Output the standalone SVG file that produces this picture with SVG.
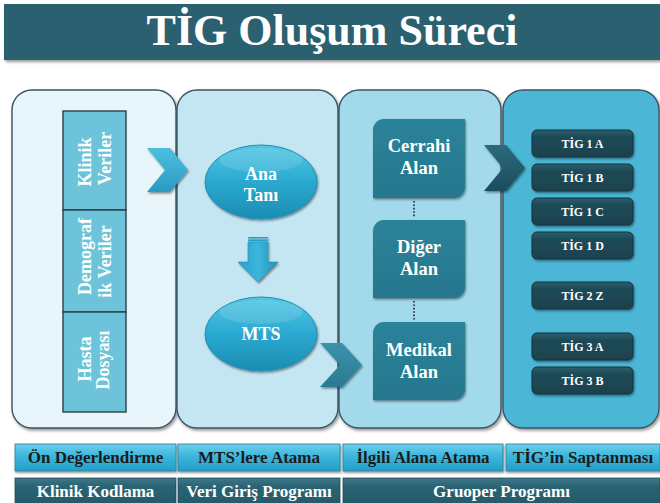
<svg xmlns="http://www.w3.org/2000/svg" width="660" height="503" viewBox="0 0 660 503" font-family="Liberation Serif, DejaVu Serif, serif" font-weight="bold">
  <defs>
    <style>
      .w{fill:#ffffff}
      .panel{stroke:#3b5563;stroke-width:1.4}
      .src{fill:#6cc3da;stroke:#2f3f46;stroke-width:1.4}
      .area{fill:url(#areaGrad)}
      .tig{fill:url(#tigGrad);stroke:#15343e;stroke-width:1}
      .step{fill:url(#stepGrad);stroke:#2b7f9c;stroke-width:0.8}
      .tool{fill:url(#toolGrad);stroke:#1e4c58;stroke-width:0.8}
      .dots{stroke:#1f2a2e;stroke-width:1.6;stroke-dasharray:1.6 1.8;fill:none}
    </style>
    <filter id="sh" x="-10%" y="-10%" width="130%" height="130%">
      <feDropShadow dx="1.5" dy="2" stdDeviation="1.5" flood-color="#000" flood-opacity="0.4"/>
    </filter>
    <filter id="shs" x="-20%" y="-20%" width="150%" height="160%">
      <feDropShadow dx="1" dy="1.5" stdDeviation="1" flood-color="#000" flood-opacity="0.45"/>
    </filter>
    <linearGradient id="ellGrad" x1="0" y1="0" x2="0" y2="1">
      <stop offset="0" stop-color="#52c6e4"/>
      <stop offset="0.5" stop-color="#2aa9d0"/>
      <stop offset="1" stop-color="#1c8cb1"/>
    </linearGradient>
    <linearGradient id="arrowGrad" x1="0" y1="0" x2="1" y2="0">
      <stop offset="0" stop-color="#2a9fc6"/>
      <stop offset="0.5" stop-color="#3cb6dc"/>
      <stop offset="1" stop-color="#2393ba"/>
    </linearGradient>
    <linearGradient id="chev1" x1="0" y1="0" x2="0" y2="1">
      <stop offset="0" stop-color="#4cc0e0"/>
      <stop offset="1" stop-color="#2b9ac0"/>
    </linearGradient>
    <linearGradient id="chev2" x1="0" y1="0" x2="0" y2="1">
      <stop offset="0" stop-color="#3a93ab"/>
      <stop offset="1" stop-color="#2a7a91"/>
    </linearGradient>
    <linearGradient id="chev3" x1="0" y1="0" x2="0" y2="1">
      <stop offset="0" stop-color="#2b6a7c"/>
      <stop offset="1" stop-color="#1c4d5c"/>
    </linearGradient>
    <linearGradient id="areaGrad" x1="0" y1="0" x2="0" y2="1">
      <stop offset="0" stop-color="#2c8399"/>
      <stop offset="1" stop-color="#25778d"/>
    </linearGradient>
    <linearGradient id="tigGrad" x1="0" y1="0" x2="0" y2="1">
      <stop offset="0" stop-color="#2c5f6d"/>
      <stop offset="0.25" stop-color="#1f4a57"/>
      <stop offset="1" stop-color="#1a424e"/>
    </linearGradient>
    <linearGradient id="stepGrad" x1="0" y1="0" x2="0" y2="1">
      <stop offset="0" stop-color="#6dd0ec"/>
      <stop offset="0.45" stop-color="#3cb6dc"/>
      <stop offset="1" stop-color="#249ec8"/>
    </linearGradient>
    <linearGradient id="toolGrad" x1="0" y1="0" x2="0" y2="1">
      <stop offset="0" stop-color="#3f7888"/>
      <stop offset="0.3" stop-color="#2a6373"/>
      <stop offset="1" stop-color="#245a69"/>
    </linearGradient>
  </defs>

  <!-- title bar -->
  <g id="title">
    <rect x="4" y="4" width="656" height="56" fill="#29606f" filter="url(#sh)"/>
    <text class="w" x="332" y="45" font-size="44" text-anchor="middle">TİG Oluşum Süreci</text>
  </g>

  <!-- stage panels -->
  <g id="panels">
    <rect id="panel-on" class="panel" x="12" y="90" width="164" height="338" rx="20" fill="#e8f5fa" filter="url(#sh)"/>
    <rect id="panel-mts" class="panel" x="177" y="90" width="161" height="338" rx="20" fill="#c4e6f2" filter="url(#sh)"/>
    <rect id="panel-alan" class="panel" x="339" y="90" width="162" height="338" rx="20" fill="#a2d9eb" filter="url(#sh)"/>
    <rect id="panel-tig" class="panel" x="503" y="90" width="156" height="338" rx="20" fill="#4cb6d6" filter="url(#sh)"/>
  </g>

  <!-- source records (vertical text) -->
  <g id="klinik-veriler">
    <rect class="src" x="63" y="111" width="63" height="99"/>
    <text class="w" font-size="18" text-anchor="middle" transform="translate(91,162) rotate(-90)">Klinik</text>
    <text class="w" font-size="18" text-anchor="middle" transform="translate(111,158.5) rotate(-90)">Veriler</text>
  </g>
  <g id="demografik-veriler">
    <rect class="src" x="63" y="210" width="63" height="102"/>
    <text class="w" font-size="18" text-anchor="middle" transform="translate(91,256.5) rotate(-90)">Demograf</text>
    <text class="w" font-size="18" text-anchor="middle" transform="translate(111,261.5) rotate(-90)">ik Veriler</text>
  </g>
  <g id="hasta-dosyasi">
    <rect class="src" x="63" y="312" width="63" height="100"/>
    <text class="w" font-size="18" text-anchor="middle" transform="translate(91,359) rotate(-90)">Hasta</text>
    <text class="w" font-size="18" text-anchor="middle" transform="translate(109,360) rotate(-90)">Dosyası</text>
  </g>

  <!-- diagnosis ellipses -->
  <g id="ana-tani">
    <ellipse cx="261" cy="182" rx="56" ry="37" fill="url(#ellGrad)" stroke="#2390b5" stroke-width="1" filter="url(#shs)"/>
    <ellipse cx="261" cy="160" rx="42" ry="12" fill="#ffffff" opacity="0.12"/>
    <text class="w" font-size="18" text-anchor="middle" x="261" y="180">Ana</text>
    <text class="w" font-size="18" text-anchor="middle" x="261" y="201">Tanı</text>
  </g>
  <g id="mts">
    <ellipse cx="261" cy="334" rx="56" ry="37" fill="url(#ellGrad)" stroke="#2390b5" stroke-width="1" filter="url(#shs)"/>
    <ellipse cx="261" cy="312" rx="42" ry="12" fill="#ffffff" opacity="0.12"/>
    <text class="w" font-size="18" text-anchor="middle" x="261" y="340">MTS</text>
  </g>

  <!-- clinical areas -->
  <g id="cerrahi-alan">
    <path class="area" filter="url(#shs)" d="M373,130 A11,11 0 0 1 384,119 H465 V187 A11,11 0 0 1 454,198 H373 Z"/>
    <text class="w" font-size="18.5" text-anchor="middle" x="419" y="152">Cerrahi</text>
    <text class="w" font-size="18.5" text-anchor="middle" x="419" y="174">Alan</text>
  </g>
  <g id="diger-alan">
    <path class="area" filter="url(#shs)" d="M373,231 A11,11 0 0 1 384,220 H465 V287 A11,11 0 0 1 454,298 H373 Z"/>
    <text class="w" font-size="18.5" text-anchor="middle" x="419" y="253">Diğer</text>
    <text class="w" font-size="18.5" text-anchor="middle" x="419" y="275">Alan</text>
  </g>
  <g id="medikal-alan">
    <path class="area" filter="url(#shs)" d="M373,333 A11,11 0 0 1 384,322 H465 V389 A11,11 0 0 1 454,400 H373 Z"/>
    <text class="w" font-size="18.5" text-anchor="middle" x="419" y="356">Medikal</text>
    <text class="w" font-size="18.5" text-anchor="middle" x="419" y="378">Alan</text>
  </g>

  <!-- resulting groups -->
  <g id="tig-list">
    <g id="tig-1a"><rect class="tig" x="532" y="130" width="101" height="27" rx="5" filter="url(#shs)"/><text class="w" font-size="12" text-anchor="middle" x="582.5" y="148">TİG 1 A</text></g>
    <g id="tig-1b"><rect class="tig" x="532" y="164" width="101" height="27" rx="5" filter="url(#shs)"/><text class="w" font-size="12" text-anchor="middle" x="582.5" y="182">TİG 1 B</text></g>
    <g id="tig-1c"><rect class="tig" x="532" y="198" width="101" height="27" rx="5" filter="url(#shs)"/><text class="w" font-size="12" text-anchor="middle" x="582.5" y="216">TİG 1 C</text></g>
    <g id="tig-1d"><rect class="tig" x="532" y="232" width="101" height="27" rx="5" filter="url(#shs)"/><text class="w" font-size="12" text-anchor="middle" x="582.5" y="250">TİG 1 D</text></g>
    <g id="tig-2z"><rect class="tig" x="532" y="282" width="101" height="27" rx="5" filter="url(#shs)"/><text class="w" font-size="12" text-anchor="middle" x="582.5" y="300">TİG 2 Z</text></g>
    <g id="tig-3a"><rect class="tig" x="532" y="333" width="101" height="27" rx="5" filter="url(#shs)"/><text class="w" font-size="12" text-anchor="middle" x="582.5" y="351">TİG 3 A</text></g>
    <g id="tig-3b"><rect class="tig" x="532" y="367" width="101" height="27" rx="5" filter="url(#shs)"/><text class="w" font-size="12" text-anchor="middle" x="582.5" y="385">TİG 3 B</text></g>
  </g>

  <!-- connectors -->
  <g id="connectors">
    <polygon points="147,148 170,148 188,170 170,192 147,192 165,170" fill="url(#chev1)" filter="url(#shs)"/>
    <g id="down-arrow" filter="url(#shs)">
      <rect x="248" y="237" width="20" height="1.5" fill="#2a9fc6"/>
      <rect x="248" y="239.5" width="20" height="1.5" fill="#2a9fc6"/>
      <path d="M248,242 H268 V262 H278 L258,282 L238,262 H248 Z" fill="url(#arrowGrad)" stroke="#2290b6" stroke-width="0.6"/>
    </g>
    <polygon points="320,343 342,343 362,365 342,387 320,387 340,365" fill="url(#chev2)" filter="url(#shs)"/>
    <polygon points="484,145 506,145 525,168 506,191 484,191 503,168" fill="url(#chev3)" filter="url(#shs)"/>
    <line class="dots" x1="414" y1="201" x2="414" y2="218"/>
    <line class="dots" x1="414" y1="301" x2="414" y2="320"/>
  </g>

  <!-- process step labels -->
  <g id="steps">
    <g id="step-on"><rect class="step" x="15" y="444" width="161" height="27" filter="url(#shs)"/><text font-size="17" fill="#1b1b1b" text-anchor="middle" x="95.5" y="463">Ön Değerlendirme</text></g>
    <g id="step-mts"><rect class="step" x="178" y="444" width="162" height="27" filter="url(#shs)"/><text font-size="17" fill="#1b1b1b" text-anchor="middle" x="259" y="463">MTS’lere Atama</text></g>
    <g id="step-alan"><rect class="step" x="343" y="444" width="160" height="27" filter="url(#shs)"/><text font-size="17" fill="#1b1b1b" text-anchor="middle" x="423" y="463">İlgili Alana Atama</text></g>
    <g id="step-tig"><rect class="step" x="506" y="444" width="154" height="27" filter="url(#shs)"/><text font-size="17" fill="#1b1b1b" text-anchor="middle" x="583" y="463">TİG’in Saptanması</text></g>
  </g>

  <!-- tool labels -->
  <g id="tools">
    <g id="tool-kodlama"><rect class="tool" x="15" y="478" width="161" height="28"/><text class="w" font-size="17" text-anchor="middle" x="95.5" y="497">Klinik Kodlama</text></g>
    <g id="tool-veri"><rect class="tool" x="178" y="478" width="162" height="28"/><text class="w" font-size="17" text-anchor="middle" x="259" y="497">Veri Giriş Programı</text></g>
    <g id="tool-gruoper"><rect class="tool" x="343" y="478" width="317" height="28"/><text class="w" font-size="17" text-anchor="middle" x="501.5" y="497">Gruoper Programı</text></g>
  </g>
</svg>
